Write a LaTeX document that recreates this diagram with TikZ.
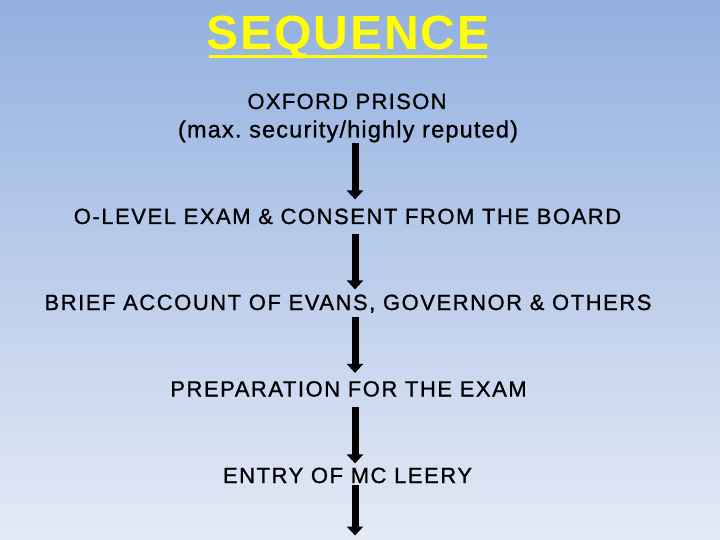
\documentclass[tikz,border=0pt]{standalone}
\usepackage{fontspec}
\setmainfont{Liberation Sans}
\newfontfamily\lblfont[LetterSpace=7,FakeBold=1]{Liberation Sans}
\newfontfamily\oxfont[LetterSpace=6,FakeBold=1]{Liberation Sans}
\newfontfamily\parfont[LetterSpace=5,FakeBold=1]{Liberation Sans}
\newfontfamily\titlefont[LetterSpace=4]{Liberation Sans}
\usetikzlibrary{arrows.meta}
\definecolor{bgtop}{RGB}{146,176,224}
\definecolor{bgbot}{RGB}{228,234,246}
\definecolor{titley}{RGB}{255,255,0}
\tikzset{
  lbl/.style={inner sep=0pt, anchor=base, font=\lblfont\fontsize{22}{26}\selectfont, text=black},
  arr/.style={line width=7pt, draw=black, -{Triangle[width=16pt,length=9pt]}}
}
\frenchspacing
\begin{document}
\begin{tikzpicture}[x=1pt,y=-1pt]
\shade[top color=bgtop, bottom color=bgbot] (0,0) rectangle (720,540);
\useasboundingbox (0,0) rectangle (720,540);
\node[inner sep=0pt, anchor=base, font=\titlefont\fontsize{48}{56}\selectfont\bfseries, text=titley] (title) at (348,50) {SEQUENCE};
\fill[titley] (209,55) rectangle (487,58.5);
\coordinate (ax) at (355,0);
\node[lbl, font=\oxfont\fontsize{22}{26}\selectfont] (t0) at (347,109) {OXFORD PRISON};
\node[lbl, font=\parfont\fontsize{23.5}{26}\selectfont] (t1) at (348,137.5) {(max. security/highly reputed)};
\node[lbl] (t2) at (347.5,224) {O-LEVEL EXAM \& CONSENT FROM THE BOARD};
\node[lbl] (t3) at (348,310) {BRIEF ACCOUNT OF EVANS, GOVERNOR \& OTHERS};
\node[lbl] (t4) at (348.5,396.5) {PREPARATION FOR THE EXAM};
\node[lbl] (t5) at (347.5,483) {ENTRY OF MC LEERY};
\coordinate (end) at (355,535.5);
\draw[arr, shorten <=6pt, shorten >=9pt] (t1.base -| ax) -- (t2.north -| ax);
\draw[arr, shorten <=9.5pt, shorten >=5pt] (t2.base -| ax) -- (t3.north -| ax);
\draw[arr, shorten <=7pt, shorten >=8pt] (t3.base -| ax) -- (t4.north -| ax);
\draw[arr, shorten <=10pt, shorten >=4pt] (t4.base -| ax) -- (t5.north -| ax);
\draw[arr, shorten <=2pt] (t5.base -| ax) -- (end);
\end{tikzpicture}
\end{document}
